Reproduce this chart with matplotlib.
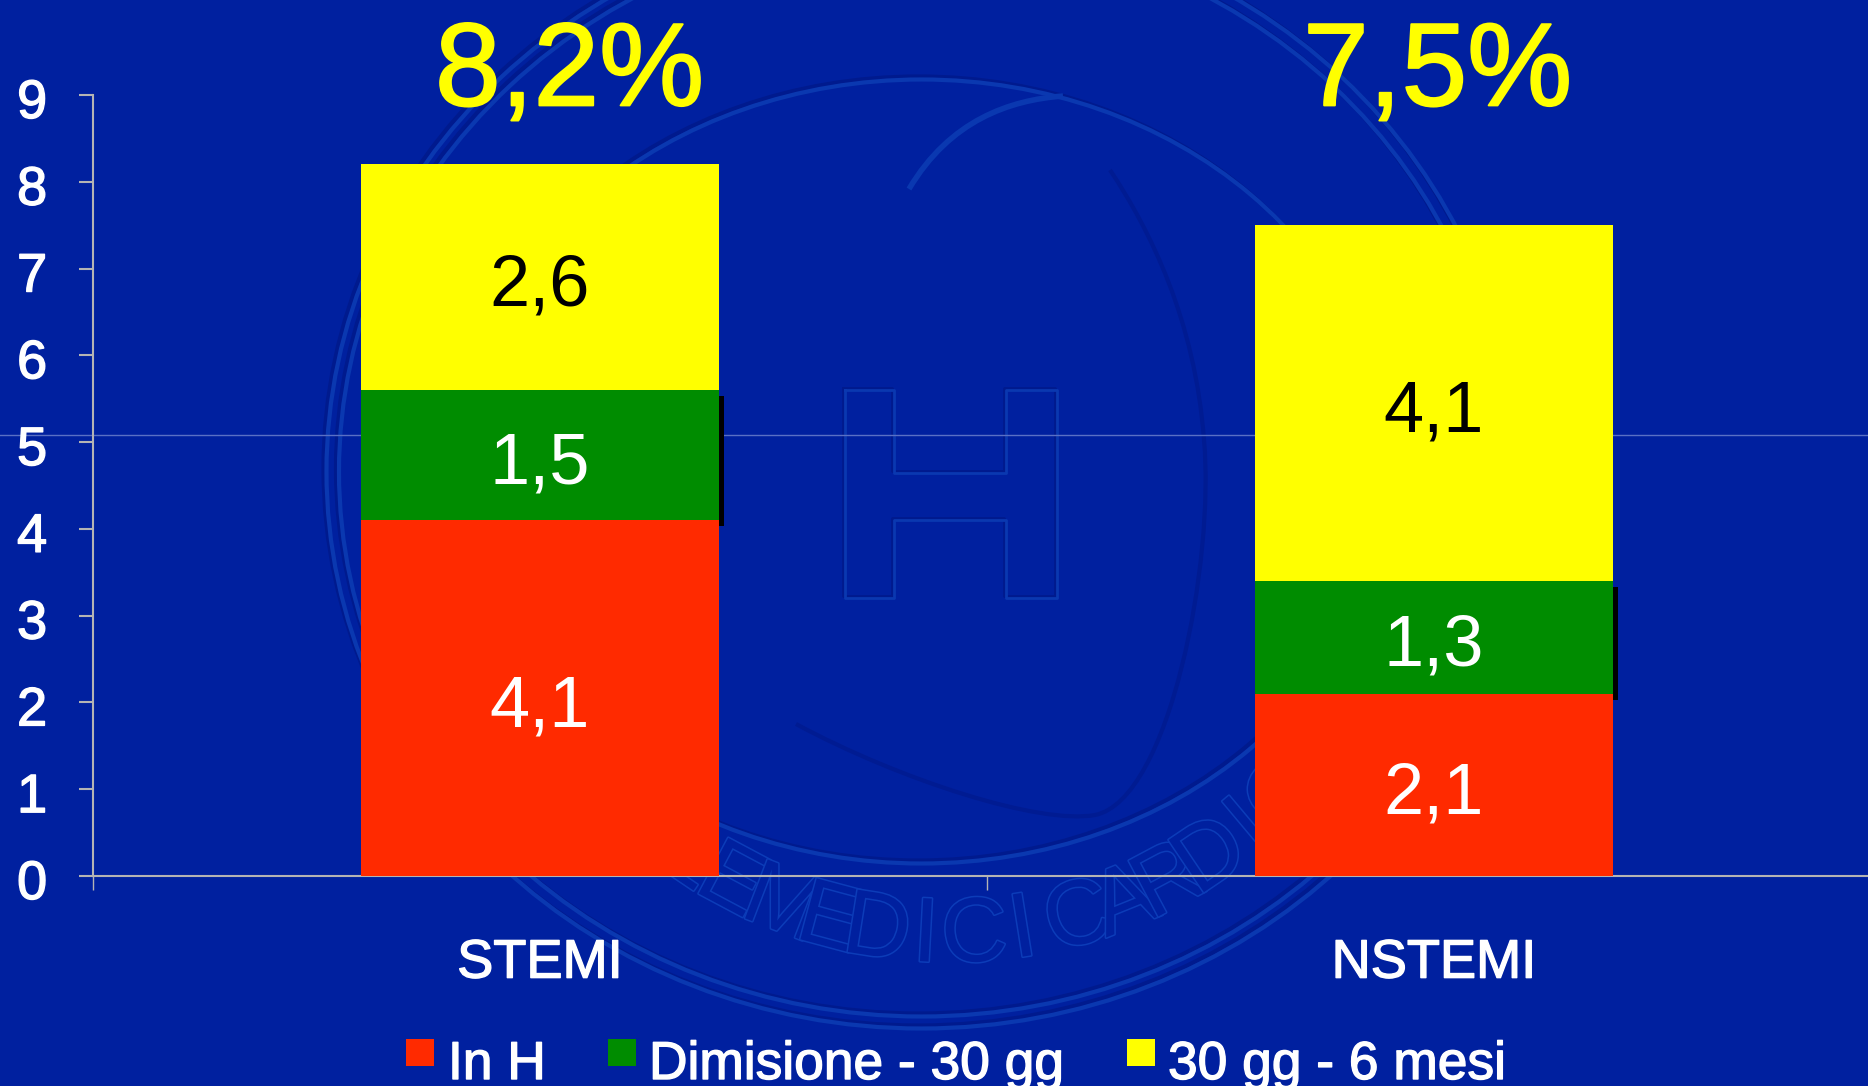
import matplotlib

matplotlib.use("Agg")
import matplotlib.pyplot as plt
import numpy as np
from matplotlib import patches
from matplotlib import patheffects as pe
from matplotlib.path import Path as MPath
from matplotlib.transforms import ScaledTranslation

categories = ["STEMI", "NSTEMI"]
in_h = [4.1, 2.1]
dimissione = [1.5, 1.3]
gg_6_mesi = [2.6, 4.1]
totals = ["8,2%", "7,5%"]
series_names = ["In H", "Dimisione - 30 gg", "30 gg - 6 mesi"]
y_ticks = [0, 1, 2, 3, 4, 5, 6, 7, 8, 9]

W, H = 1868, 1086
BG = "#00209f"
LIGHT = "#0a38b0"
DARK = "#001a8e"
AXIS = "#b4b4b4"
RED = "#ff2a00"
GREEN = "#008c00"
YELLOW = "#ffff00"

plt.rcParams["font.family"] = ["Liberation Sans", "DejaVu Sans"]

fig = plt.figure(figsize=(W / 100, H / 100), dpi=100, facecolor=BG)


def emboss(bg, patch_fn, lw=3.0, d=1.5):
    # dark copy up-left, light copy down-right, like the pressed logo
    bg.add_patch(patch_fn(-d, -d, DARK, lw))
    bg.add_patch(patch_fn(d, d, LIGHT, lw))


def draw_watermark() -> None:
    # faint emblem behind the chart, pixel coordinates
    bg = fig.add_axes([0, 0, 1, 1], zorder=0)
    bg.set_xlim(0, W)
    bg.set_ylim(H, 0)
    bg.axis("off")

    for cx, cy, w, h in [(920, 470, 1190, 1114), (920, 470, 1165, 1090), (920, 470, 930, 784)]:
        emboss(bg, lambda dx, dy, c, lw: patches.Ellipse((cx + dx, cy + dy), w, h, fill=False, ec=c, lw=lw))

    h_x = [844, 893, 893, 1005, 1005, 1056, 1056, 1005, 1005, 893, 893, 844, 844]
    h_y = [389, 389, 472, 472, 389, 389, 597, 597, 519, 519, 597, 597, 389]
    bg.plot(np.array(h_x) - 1, np.array(h_y) - 1, color=DARK, lw=2)
    bg.plot(np.array(h_x) + 1, np.array(h_y) + 1, color=LIGHT, lw=2)

    # head outline and the arc above it
    head_pts = [(796, 724), (900, 780), (1040, 825), (1095, 815), (1170, 800), (1215, 560), (1204, 440), (1195, 320), (1150, 230), (1110, 170)]
    head = MPath(head_pts, [MPath.MOVETO] + [MPath.CURVE4] * 9)
    bg.add_patch(patches.PathPatch(head, fill=False, ec="#001b92", lw=3))
    arc = MPath([(909, 189), (950, 120), (1010, 100), (1063, 96)], [MPath.MOVETO, MPath.CURVE4, MPath.CURVE4, MPath.CURVE4])
    bg.add_patch(patches.PathPatch(arc, fill=False, ec=LIGHT, lw=4))

    angle = -46.0
    for ch in "NALE MEDICI CARDIO":
        if ch == " ":
            angle += 1.0
            continue
        a = np.deg2rad(angle)
        txt = bg.text(
            950 + 468 * np.sin(a),
            470 + 468 * np.cos(a),
            ch,
            color=BG,
            fontsize=66,
            rotation=angle,
            rotation_mode="anchor",
            ha="center",
            va="center",
        )
        txt.set_path_effects([pe.Stroke(linewidth=2.2, foreground="#0c3cb8"), pe.Normal()])
        angle += 6.0

    bg.plot([0, W], [435, 435], color="#5a70c4", lw=1)


draw_watermark()

left, right = 93 / W, (93 + 2 * 894) / W
bottom, top = 1 - 876 / H, 1 - 95 / H
ax = fig.add_axes([left, bottom, right - left, top - bottom], zorder=1)
ax.patch.set_alpha(0)
ax.set_xlim(-0.5, 1.5)
ax.set_ylim(0, 9)

x = np.arange(len(categories))
bar_w = 0.4
ax.bar(x, in_h, bar_w, color=RED, zorder=3)
green_bars = ax.bar(x, dimissione, bar_w, bottom=in_h, color=GREEN, zorder=2)
bottoms = [a + b for a, b in zip(in_h, dimissione)]
ax.bar(x, gg_6_mesi, bar_w, bottom=bottoms, color=YELLOW, zorder=3)
for bar in green_bars:
    bar.set_path_effects([pe.SimplePatchShadow(offset=(3.6, -4.3), shadow_rgbFace="black", alpha=1), pe.Normal()])


def bar_label(i, y, value, color):
    ax.annotate(f"{value:.1f}".replace(".", ","), (i, y), xytext=(0, -7), textcoords="offset points",
                color=color, fontsize=52, ha="center", va="center", zorder=5)


total_shift = [0.033, 0.004]
for i in x:
    bar_label(i, in_h[i] / 2, in_h[i], "white")
    bar_label(i, in_h[i] + dimissione[i] / 2, dimissione[i], "white")
    bar_label(i, bottoms[i] + gg_6_mesi[i] / 2, gg_6_mesi[i], "black")
    tot = ax.text(i + total_shift[i], 8.88, totals[i], color=YELLOW, fontsize=85, ha="center", va="baseline", zorder=5, clip_on=False)
    tot.set_path_effects([pe.withStroke(linewidth=1.4, foreground=YELLOW)])

for side in ["top", "right"]:
    ax.spines[side].set_visible(False)
for side in ["left", "bottom"]:
    ax.spines[side].set_color(AXIS)
    ax.spines[side].set_linewidth(1.5)

heavy = [pe.withStroke(linewidth=1.0, foreground="white")]
ax.set_yticks(y_ticks)
ax.tick_params(axis="y", direction="out", length=10, width=1.5, color=AXIS, labelcolor="white", labelsize=39, pad=23)
label_shift = ScaledTranslation(0, -2.5 / 72, fig.dpi_scale_trans)
for lab in ax.get_yticklabels():
    lab.set_path_effects(heavy)
    lab.set_transform(lab.get_transform() + label_shift)
ax.set_xticks([-0.5, 0.5, 1.5])
ax.set_xticklabels([])
ax.tick_params(axis="x", direction="out", length=10, width=1, color=AXIS)
for i, name in enumerate(categories):
    ax.text(i, -1.01, name, color="white", fontsize=39, ha="center", va="center", path_effects=heavy)

# legend laid out by hand to follow the original spacing
swatch_x = [406, 608, 1127]
label_x = [448, 649, 1168]
for sx, lx, name, col in zip(swatch_x, label_x, series_names, [RED, GREEN, YELLOW]):
    fig.patches.append(patches.Rectangle((sx / W, 1 - 1066 / H), 28 / W, 27 / H, transform=fig.transFigure, fc=col, ec="none", zorder=4))
    fig.text(lx / W, 1 - 1065 / H, name, color="white", fontsize=38.4, ha="left", va="center", zorder=4, path_effects=heavy)

fig.savefig("out.png", dpi=100, facecolor=BG)
